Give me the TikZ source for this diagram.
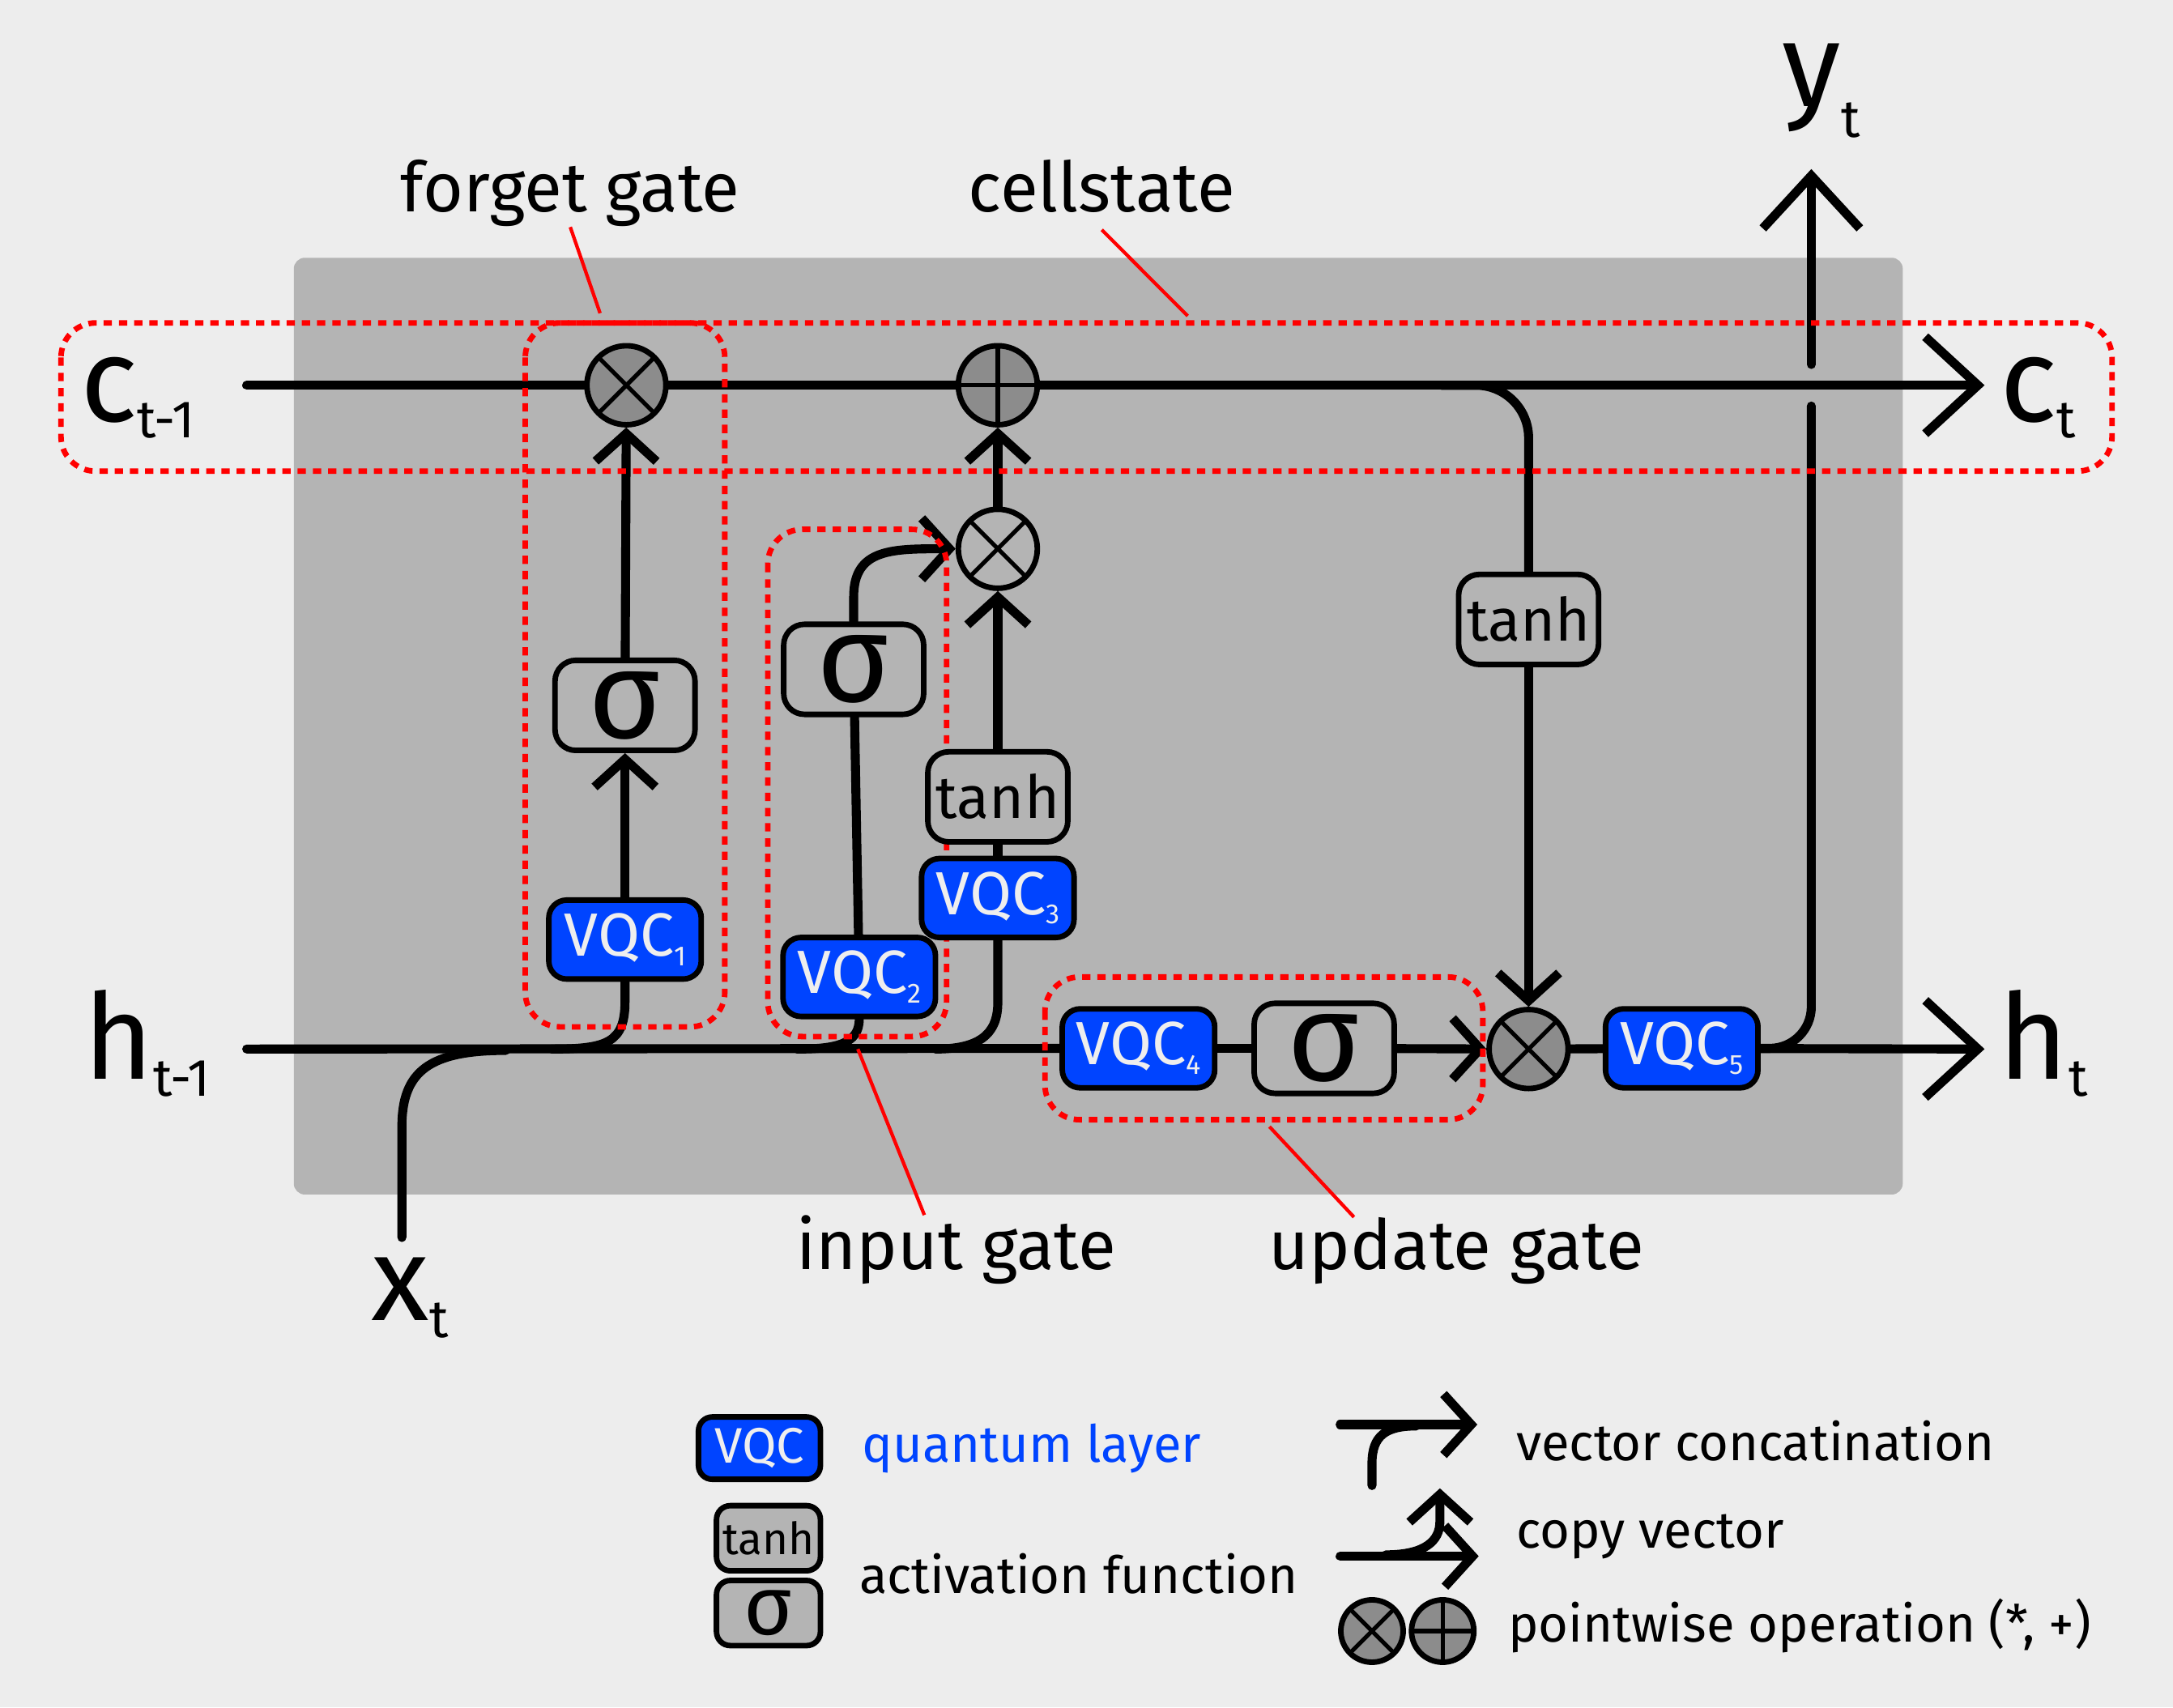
\documentclass[tikz,border=0pt]{standalone}
\usepackage{fontspec}
\setmainfont{Fira Sans}
\usetikzlibrary{arrows.meta}
\definecolor{bgcol}{HTML}{EDEDED}
\definecolor{cellgray}{HTML}{B4B4B4}
\definecolor{opgray}{HTML}{8C8C8C}
\definecolor{qblue}{HTML}{0044FF}
\definecolor{qtext}{HTML}{EEEEEE}
\newcommand{\fsz}[1]{\fontsize{#1}{#1}\selectfont}
\newcommand{\symsub}[3][12pt]{#2\raisebox{-#1}{\fsz{38}#3}}
\newcommand{\qsub}[1]{VQC\raisebox{-7pt}{\fsz{20}#1}}
\pgfdeclarelayer{bg}
\pgfdeclarelayer{wires}
\pgfdeclarelayer{gates}
\pgfsetlayers{bg,wires,gates,main}
\tikzset{tipS/.tip={Straight Barb[length=20pt,width=44pt]},
         tipL/.tip={Straight Barb[length=38pt,width=70pt]}}
\tikzstyle{wire} = [line width=6.5pt, line cap=round, black]
\tikzstyle{vqc} = [rectangle, draw, line width=4pt, fill=qblue, text=qtext, rounded corners=13pt, minimum width=110pt, minimum height=57pt, inner sep=0pt, font=\fsz{44}]
\tikzstyle{act} = [rectangle, draw, line width=4pt, fill=cellgray, rounded corners=15pt, minimum width=101pt, minimum height=65pt, inner sep=0pt, font=\fsz{43}]
\tikzstyle{sig} = [act, font=\fsz{90}]
\tikzstyle{op} = [circle, draw, line width=4pt, minimum size=57pt, inner sep=0pt]
\tikzstyle{times} = [op, path picture={\draw[line width=3pt] (path picture bounding box.north west) -- (path picture bounding box.south east) (path picture bounding box.north east) -- (path picture bounding box.south west);}]
\tikzstyle{plus} = [op, path picture={\draw[line width=3pt] (path picture bounding box.north) -- (path picture bounding box.south) (path picture bounding box.west) -- (path picture bounding box.east);}]
\tikzstyle{gatebox} = [draw=red, line width=4pt, dash pattern=on 6pt off 5pt, rounded corners=25pt]
\tikzstyle{leader} = [draw=red, line width=2.5pt]
\tikzstyle{lbl} = [inner sep=0pt, anchor=base, font=\fsz{50}]
\tikzstyle{sym} = [inner sep=0pt, anchor=base west, font=\fsz{86}]
\tikzstyle{legend} = [inner sep=0pt, anchor=base west, font=\fsz{37}]
\begin{document}
\begin{tikzpicture}[x=1pt, y=-1pt]
\useasboundingbox (0,0) rectangle (1568,1232);
\begin{pgfonlayer}{bg}
\fill[bgcol] (0,0) rectangle (1568,1232);
\fill[cellgray, rounded corners=8pt] (212,186) rectangle (1373,862);
\end{pgfonlayer}

% pointwise operations
\node[times, fill=opgray] (mulF) at (452,278) {};
\node[plus, fill=opgray] (addC) at (720,278) {};
\node[times, fill=cellgray] (mulI) at (720,396) {};
\node[times, fill=opgray] (mulU) at (1103,757) {};
% layers and activations
\node[sig] (sigF) at (451,509) {σ};
\node[vqc] (vqcA) at (451,678) {\qsub{1}};
\node[sig] (sigI) at (616,483) {σ};
\node[vqc] (vqcB) at (620,705) {\qsub{2}};
\node[act] (tanhI) at (720,575) {tanh};
\node[vqc] (vqcC) at (720,648) {\qsub{3}};
\node[vqc] (vqcD) at (821.5,756.5) {\qsub{4}};
\node[sig] (sigU) at (955.5,756.5) {σ};
\node[vqc] (vqcE) at (1213.5,756.5) {\qsub{5}};
\node[act] (tanhC) at (1103,447) {tanh};
% inputs and outputs
\node[sym] (ctm1) at (58,304) {\symsub{c}{t-1}};
\node[sym] (ct) at (1443,304) {\symsub{c}{t}};
\node[sym] (htm1) at (60,779) {\symsub{h}{t-1}};
\node[sym] (ht) at (1442,779) {\symsub{h}{t}};
\node[sym] (xt) at (268,953) {\symsub{x}{t}};
\node[sym] (yt) at (1286,77) {\symsub[22pt]{y}{t}};
\coordinate (cin) at (178,278);
\coordinate (cout) at (1432,278);
\coordinate (hin) at (178,757);
\coordinate (hout) at (1432,757);
\coordinate (xin) at (290,893);
\coordinate (xJoin) at (365,758);
\coordinate (jA) at (398,757);
\coordinate (jB) at (575,757);
\coordinate (jC) at (675,757);
\coordinate (jD) at (1040,278);
\coordinate (yLow) at (1307,293);
\coordinate (yHigh) at (1307,263);
\coordinate (ytop) at (1307,122);
% gate labels
\node[lbl] (lblForget) at (411.5,153) {forget gate};
\node[lbl] (lblCell) at (795,153) {cellstate};
\node[lbl] (lblInput) at (690,916) {input gate};
\node[lbl] (lblUpdate) at (1051,916) {update gate};
\coordinate (fgTip) at (433,226);
\coordinate (csTip) at (857,228);
\coordinate (inTip) at (619,757);
\coordinate (upTip) at (916,813);

\begin{pgfonlayer}{wires}
\draw[wire,-tipL] (cin) -- (mulF) -- (addC) -- (cout);
\draw[wire] (hin) -- (vqcD);
\draw[wire] (vqcD) -- (sigU);
\draw[wire,-tipS] (sigU) -- (mulU);
\draw[wire] (mulU) -- (vqcE);
\draw[wire,-tipL] (vqcE) -- (hout);
\draw[wire] (xin) -- ++(0,-80) .. controls +(0,-40) and +(-55,0) .. (xJoin);
\draw[wire] (vqcA.south) -- ++(0,14) .. controls +(0,30) and +(40,0) .. (jA);
\draw[wire] (vqcB.south) .. controls +(0,18) and +(28,0) .. (jB);
\draw[wire] (vqcC.south) -- ++(0,45) .. controls +(0,24) and +(30,0) .. (jC);
\draw[wire,-tipS] (vqcA) -- (sigF);
\draw[wire,-tipS] (sigF) -- (mulF);
\draw[wire] (vqcB) -- (sigI);
\draw[wire,-tipS] (sigI.north) -- ++(0,-18) .. controls +(0,-35) and +(-45,0) .. (mulI.west);
\draw[wire] (vqcC) -- (tanhI);
\draw[wire,-tipS] (tanhI) -- (mulI);
\draw[wire,-tipS] (mulI) -- (addC);
\draw[wire, rounded corners=38pt] (jD) -| (tanhC.north);
\draw[wire,-tipS] (tanhC) -- (mulU);
\draw[wire, rounded corners=30pt] (vqcE.east) -| (yLow);
\draw[wire,-tipL] (yHigh) -- (ytop);
\end{pgfonlayer}

\begin{pgfonlayer}{gates}
\draw[gatebox] (44,233) rectangle (1524,340);
\draw[gatebox] (379,233) rectangle (523,741);
\draw[gatebox] (554,382) rectangle (683,748);
\draw[gatebox] (754,705) rectangle (1070,808);
\draw[leader] (lblForget.south) -- (fgTip);
\draw[leader] ([yshift=-12pt]lblCell.south) -- (csTip);
\draw[leader] (inTip) -- ([xshift=-23pt]lblInput.north);
\draw[leader] (upTip) -- ([xshift=-74pt]lblUpdate.north);
\end{pgfonlayer}

% legend
\node[vqc, minimum width=88pt, minimum height=45pt, rounded corners=10pt, font=\fsz{36}] (legVQC) at (548,1045) {VQC};
\node[act, minimum width=75pt, minimum height=47pt, rounded corners=10pt, font=\fsz{32}] (legTanh) at (554.5,1110) {tanh};
\node[sig, minimum width=75pt, minimum height=47pt, rounded corners=10pt, font=\fsz{60}] (legSig) at (554.5,1164) {σ};
\node[times, fill=opgray, minimum size=45pt] (legMul) at (990,1177) {};
\node[plus, fill=opgray, minimum size=45pt] (legAdd) at (1041,1177) {};
\node[legend, text=qblue] (txtQ) at (622,1055) {quantum layer};
\node[legend] (txtAct) at (620,1150) {activation function};
\node[legend] (txtCat) at (1094,1054) {vector concatination};
\node[legend] (txtCopy) at (1094,1117) {copy vector};
\node[legend] (txtOp) at (1088,1185) {pointwise operation (*, +)};
\coordinate (lcA) at (967,1028);
\coordinate (lcB) at (1066,1028);
\coordinate (lcC) at (990,1072);
\coordinate (lcD) at (1022,1029);
\coordinate (lpA) at (967,1123);
\coordinate (lpB) at (1067,1123);
\coordinate (lpC) at (1000,1122);
\coordinate (lpD) at (1039,1074);
\draw[wire,-tipS] (lcA) -- (lcB);
\draw[wire] (lcC) -- ++(0,-16) .. controls +(0,-20) and +(-22,0) .. (lcD);
\draw[wire,-tipS] (lpA) -- (lpB);
\draw[wire,-tipS] (lpC) .. controls +(28,0) and +(0,14) .. ++(39,-24) -- (lpD);
\end{tikzpicture}
\end{document}
